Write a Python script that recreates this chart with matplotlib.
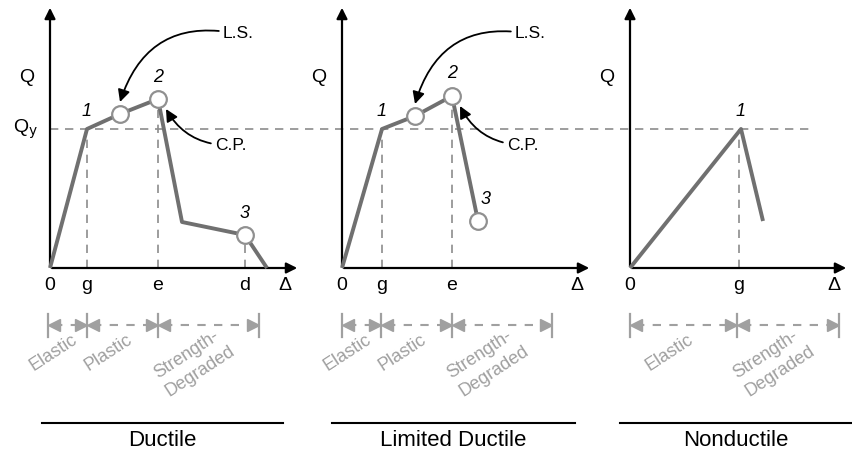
import matplotlib.pyplot as plt

# curve data per panel: deformation (Delta) and force (Q), measured from the origin
duct_d = [0, 37, 70, 108, 132, 195, 217]
duct_q = [0, 139, 154, 169, 46, 33, 0]
duct_pts = [2, 3, 5]          # indices drawn as open circles
duct_num = {"1": 1, "2": 3, "3": 5}

lim_d = [0, 40, 73, 110, 136]
lim_q = [0, 139, 152, 172, 47]
lim_pts = [2, 3, 4]
lim_num = {"1": 1, "2": 3, "3": 4}

non_d = [0, 111, 133]
non_q = [0, 139, 47]
non_num = {"1": 1}

q_y = 139
duct_ticks = {"g": 37, "e": 108, "d": 195}
lim_ticks = {"g": 40, "e": 110}
non_ticks = {"g": 109}

duct_zones = [-2, 37, 108, 209]
duct_zone_names = ["Elastic", "Plastic", "Strength-\nDegraded"]
lim_zones = [0, 39, 110, 210]
lim_zone_names = ["Elastic", "Plastic", "Strength-\nDegraded"]
non_zones = [0, 107, 209]
non_zone_names = ["Elastic", "Strength-\nDegraded"]

titles = ["Ductile", "Limited Ductile", "Nonductile"]

plt.rcParams['font.family'] = ['Liberation Sans', 'DejaVu Sans']
fig = plt.figure(figsize=(8.52, 4.55), dpi=100)
ax = fig.add_axes([0, 0, 1, 1])
ax.set_xlim(0, 852)
ax.set_ylim(455, 0)
ax.axis('off')

CURVE = '#707070'
DASH = '#8c8c8c'
LIGHT = '#a0a0a0'
Y0 = 268


def panel(x0, d, q, pts, nums, ticks, x_end, zones, names, line_x, title, arrows=None, qy_label=False):
    # axes
    ax.annotate('', xy=(x0, 5), xytext=(x0, Y0 + 1),
                arrowprops=dict(arrowstyle='-|>', color='black', lw=1.6, mutation_scale=16))
    ax.annotate('', xy=(x_end, Y0), xytext=(x0 - 1, Y0),
                arrowprops=dict(arrowstyle='-|>', color='black', lw=1.6, mutation_scale=16))
    # vertical dashed guides
    for name, g in ticks.items():
        idx = d.index(min(d, key=lambda v: abs(v - g)))
        ax.plot([x0 + g, x0 + g], [Y0, Y0 - q[idx]], color=DASH, lw=1.2, dashes=(5, 4))
        ax.text(x0 + g, Y0 + 18, name, ha='center', va='center', fontsize=14)
    ax.text(x0, Y0 + 17, '0', ha='center', va='center', fontsize=14)
    ax.text(x_end - 15, Y0 + 18, '\u0394', ha='center', va='center', fontsize=14)
    ax.text(x0 - 23, 78, 'Q', ha='center', va='center', fontsize=14)
    if qy_label:
        ax.text(x0 - 24, Y0 - q_y, 'Q$_\\mathrm{y}$', ha='center', va='center', fontsize=14)
    # curve
    xs = [x0 + v for v in d]
    ys = [Y0 - v for v in q]
    ax.plot(xs, ys, color=CURVE, lw=2.8, solid_capstyle='butt', zorder=3)
    for i in pts:
        ax.plot(xs[i], ys[i], 'o', ms=12, mfc='white', mec='#909090', mew=1.6, zorder=4)
    for lab, i in nums.items():
        off = 22 if i in pts else 18
        dx = 8 if lab == "3" and title == "Limited Ductile" else 0
        dy = 21 if lab == "3" and title == "Limited Ductile" else off
        ax.text(xs[i] + dx, ys[i] - dy, lab, ha='center', va='center', fontsize=13, style='italic')
    # L.S. / C.P. arrows
    if arrows:
        ls_i, cp_i = arrows
        ax.annotate('L.S.', xy=(xs[ls_i], ys[ls_i] - 12), xytext=(x0 + 173, 34),
                    ha='left', va='center', fontsize=12.5,
                    arrowprops=dict(arrowstyle='-|>', color='black', lw=1.3, mutation_scale=18,
                                    connectionstyle='arc3,rad=0.45', shrinkA=1, shrinkB=0))
        ax.annotate('C.P.', xy=(xs[cp_i] + 8, ys[cp_i] + 10), xytext=(x0 + 165, 145),
                    ha='left', va='center', fontsize=12.5,
                    arrowprops=dict(arrowstyle='-|>', color='black', lw=1.3, mutation_scale=18,
                                    connectionstyle='arc3,rad=-0.3', shrinkA=1, shrinkB=0))
    # zone brackets
    yb = 325
    for z in zones:
        ax.plot([x0 + z, x0 + z], [314, 337], color=LIGHT, lw=1.6)
    for a, b, nm in zip(zones[:-1], zones[1:], names):
        xa, xb = x0 + a, x0 + b
        ax.plot([xa + 6, xb - 6], [yb, yb], color=LIGHT, lw=1.5, dashes=(4, 4))
        ax.plot(xa + 6, yb, '<', color=LIGHT, ms=9)
        ax.plot(xb - 6, yb, '>', color=LIGHT, ms=9)
        if '\n' in nm:
            cx, cy = (xa + xb) / 2 - 14, yb + 37
        else:
            cx, cy = (xa + xb) / 2 - 14, yb + 28
        ax.text(cx, cy, nm, ha='center', va='center', rotation=33, fontsize=13,
                color=LIGHT, linespacing=1.3, multialignment='left')
    ax.plot(line_x, [423, 423], color='black', lw=1.5)
    ax.text(sum(line_x) / 2, 441, title, ha='center', va='center', fontsize=16)


# horizontal yield line across all panels
ax.plot([50, 815], [Y0 - q_y, Y0 - q_y], color=DASH, lw=1.2, dashes=(5, 4))

panel(50, duct_d, duct_q, duct_pts, duct_num, duct_ticks, 300, duct_zones, duct_zone_names,
      [42, 283], titles[0], arrows=(2, 3), qy_label=True)
panel(342, lim_d, lim_q, lim_pts, lim_num, lim_ticks, 592, lim_zones, lim_zone_names,
      [332, 575], titles[1], arrows=(2, 3))
panel(630, non_d, non_q, [], non_num, non_ticks, 849, non_zones, non_zone_names,
      [620, 852], titles[2])

fig.savefig('out.png', dpi=100)
